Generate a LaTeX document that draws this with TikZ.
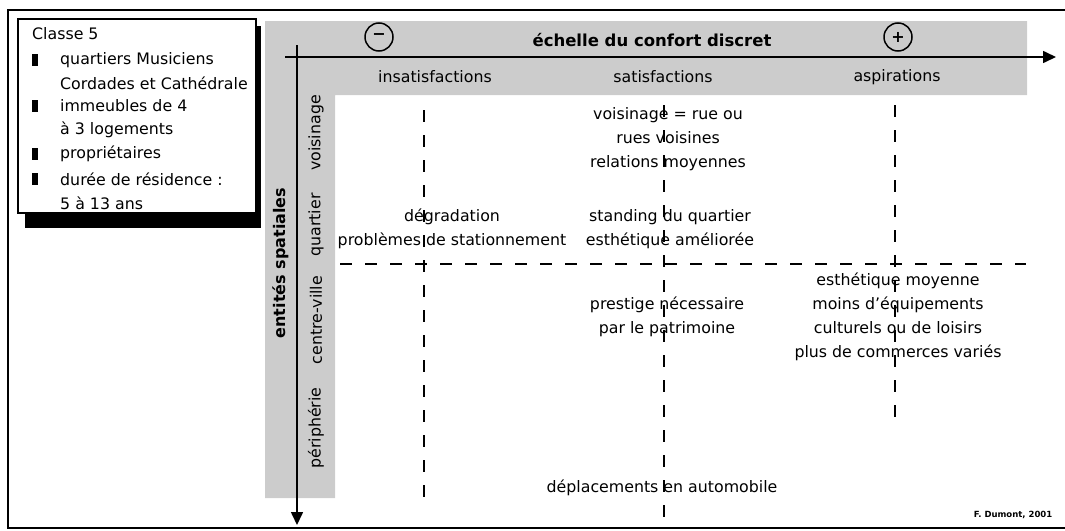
\documentclass[tikz,border=0pt]{standalone}
\usepackage{fontspec}
\setmainfont{DejaVu Sans}
\usetikzlibrary{arrows.meta}
\definecolor{bandgray}{RGB}{204,204,204}
\tikzset{
  txt/.style={font=\fontsize{15.8}{24}\selectfont, inner sep=0pt, align=center},
  legtxt/.style={font=\fontsize{15.8}{23}\selectfont, inner sep=0pt, anchor=west},
  ttl/.style={font=\fontsize{16.5}{20}\selectfont\bfseries, inner sep=0pt},
  sidelbl/.style={font=\fontsize{15.8}{20}\selectfont, inner sep=0pt, rotate=90},
  sign/.style={circle, draw, line width=1.5pt, minimum size=28pt, inner sep=0pt, font=\fontsize{16}{16}\selectfont\bfseries},
  bullet/.style={fill=black, draw=none, minimum width=6pt, minimum height=12pt, inner sep=0pt},
  axis/.style={line width=1.6pt, -{Triangle[length=13pt,width=12pt]}},
  dashline/.style={line width=1.3pt, dash pattern=on 12pt off 13pt},
}
\begin{document}
\begin{tikzpicture}[x=1pt,y=-1pt]
\useasboundingbox (0,0) rectangle (1065,530);
% outer frame (open on the right)
\draw[line width=2.2pt] (1066,10) -- (8,10) -- (8,528) -- (1066,528);
% grey L-shaped band
\fill[bandgray] (265,21) -- (1027,21) -- (1027,95) -- (335,95) -- (335,498) -- (265,498) -- cycle;
% legend box with shadow
\fill[black] (25,26) rectangle (261,228);
\draw[line width=2pt, fill=white] (18,19) rectangle (256,213);
\node[legtxt] (classe) at (32,34) {Classe 5};
\node[bullet] (b1) at (35,60) {};
\node[bullet] (b2) at (35,106) {};
\node[bullet] (b3) at (35,154) {};
\node[bullet] (b4) at (35,179) {};
\node[legtxt] (l1) at (60,60) {quartiers Musiciens};
\node[legtxt] (l2) at (60,83) {Cordades et Cathédrale};
\node[legtxt] (l3) at (60,106) {immeubles de 4};
\node[legtxt] (l4) at (60,130) {à 3 logements};
\node[legtxt] (l5) at (60,154) {propriétaires};
\node[legtxt] (l6) at (60,179) {durée de résidence :};
\node[legtxt] (l7) at (60,203) {5 à 13 ans};
% axes
\coordinate (hs) at (285,57);
\coordinate (he) at (1056,57);
\coordinate (vs) at (297,45);
\coordinate (ve) at (297,525);
\draw[axis] (hs) -- (he);
\draw[axis] (vs) -- (ve);
% header
\node[sign] (minus) at (379,37) {−};
\node[sign] (plus) at (898,37) {+};
\node[ttl] (title) at (652,40) {échelle du confort discret};
\node[txt] (insat) at (435,77) {insatisfactions};
\node[txt] (sat) at (663,77) {satisfactions};
\node[txt] (asp) at (897,77) {aspirations};
% side labels
\node[ttl, rotate=90, font=\fontsize{16}{20}\selectfont\bfseries] (ent) at (281,263) {entités spatiales};
\node[sidelbl] (vois) at (316,133) {voisinage};
\node[sidelbl] (quart) at (316,225) {quartier};
\node[sidelbl] (cv) at (316,320) {centre-ville};
\node[sidelbl] (peri) at (316,428) {périphérie};
% dashed grid
\coordinate (d1a) at (424,110); \coordinate (d1b) at (424,507);
\coordinate (d2a) at (664,105); \coordinate (d2b) at (664,520);
\coordinate (d3a) at (895,105); \coordinate (d3b) at (895,424);
\coordinate (hda) at (340,264); \coordinate (hdb) at (1026,264);
\draw[dashline] (d1a) -- (d1b);
\draw[dashline] (d2a) -- (d2b);
\draw[dashline] (d3a) -- (d3b);
\draw[dashline] (hda) -- (hdb);
% cells
\node[txt] (c1) at (668,139) {voisinage = rue ou\\rues voisines\\relations moyennes};
\node[txt] (c2) at (452,229) {dégradation\\problèmes de stationnement};
\node[txt] (c3) at (670,229) {standing du quartier\\esthétique améliorée};
\node[txt] (c4) at (667,317) {prestige nécessaire\\par le patrimoine};
\node[txt] (c5) at (898,317) {esthétique moyenne\\moins d'équipements\\culturels ou de loisirs\\plus de commerces variés};
\node[txt] (c6) at (662,488) {déplacements en automobile};
\node[font=\fontsize{8.5}{10}\selectfont\bfseries, inner sep=0pt] (src) at (1013,515) {F. Dumont, 2001};
\end{tikzpicture}
\end{document}
